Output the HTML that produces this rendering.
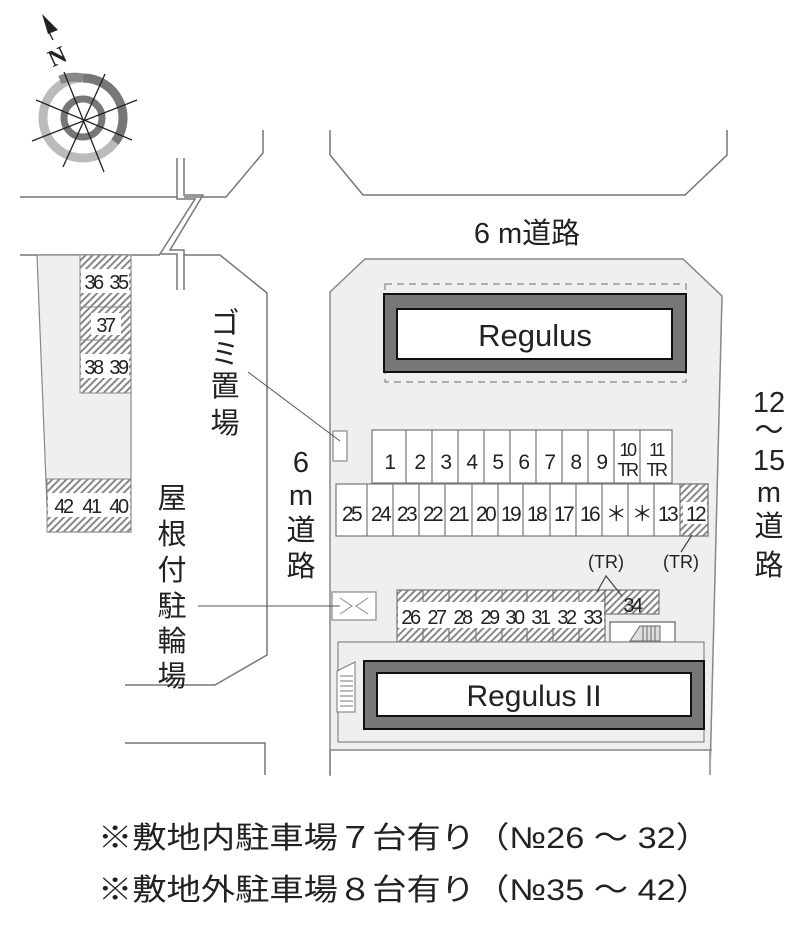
<!DOCTYPE html>
<html><head><meta charset="utf-8"><style>
html,body{margin:0;padding:0;background:#fff}
svg{display:block}
text{font-family:"Liberation Sans","Noto Sans CJK JP",sans-serif;fill:#222}
</style></head><body>
<svg width="800" height="941" viewBox="0 0 800 941" xmlns="http://www.w3.org/2000/svg">
<defs>
<pattern id="h" width="5" height="5" patternUnits="userSpaceOnUse" patternTransform="rotate(45)">
<rect width="5" height="5" fill="#fff"/><rect width="2" height="5" fill="#888"/>
</pattern>
</defs>
<g fill="none" stroke="#666" stroke-width="1.5">
<circle cx="83" cy="118" r="40" stroke="#bbb" stroke-width="9"/>
<path d="M83,78 A40,40 0 0 1 115,142" stroke="#777" stroke-width="9"/>
<circle cx="83" cy="118" r="19" stroke="#777" stroke-width="7"/>
<path d="M60,80 A40,40 0 0 1 83,78" stroke="#888" stroke-width="9"/>
</g>
<g stroke="#222" stroke-width="1.3">
<line x1="64" y1="72" x2="104" y2="172"/>
<line x1="105" y1="74" x2="63" y2="167"/>
<line x1="36" y1="100" x2="132" y2="140"/>
<line x1="32" y1="141" x2="137" y2="100"/>
<line x1="48" y1="30" x2="53" y2="40"/>
</g>
<polygon points="42,14 58,30 48,34" fill="#222"/>
<text x="48" y="64" font-size="24" font-weight="bold" transform="rotate(-25 58 55)" style="font-family:'Liberation Serif',serif">N</text>

<g fill="none" stroke="#777" stroke-width="1.5">
<path d="M20,197 H177 M184,197 H226 L263,153 V130"/>
<path d="M177,158 V199 L195,199 L160,254 L177,254 V290"/>
<path d="M184,158 V195 L203,195 L170,250 L184,250 V290"/>
<path d="M20,255 H160 M184,255 H220 L267,293 V655 L215,685 H125"/>
<path d="M125,743 H265 V775"/>
<path d="M330,130 V155 L363,195 H685 L727,155 V130"/>
</g>
<polygon points="37,255 131,255 131,532 48,532" fill="#efefef" stroke="#888" stroke-width="1.2"/>
<g stroke="#888" stroke-width="1">
<rect x="80" y="255" width="51" height="52" fill="url(#h)"/>
<rect x="80" y="307" width="51" height="33" fill="url(#h)"/>
<rect x="80" y="340" width="51" height="53" fill="url(#h)"/>
<rect x="47" y="479" width="84" height="53" fill="url(#h)"/>
</g>
<g font-size="20" text-anchor="middle" letter-spacing="-2.5">
<rect x="81" y="269" width="48" height="24" fill="#fff"/>
<text x="93" y="289">36</text><text x="118" y="289">35</text>
<rect x="91" y="313" width="30" height="22" fill="#fff"/>
<text x="105" y="332">37</text>
<rect x="81" y="354" width="48" height="24" fill="#fff"/>
<text x="93" y="374">38</text><text x="118" y="374">39</text>
<rect x="48" y="493" width="82" height="24" fill="#fff"/>
<text x="63" y="513">42</text><text x="91" y="513">41</text><text x="118" y="513">40</text>
</g>

<polygon points="330,292 365,259 683,259 722,296 710,775 330,775" fill="#efefef" stroke="#888" stroke-width="1.5"/>
<line x1="330" y1="750" x2="712" y2="750" stroke="#888" stroke-width="1.5"/>
<rect x="331" y="751" width="380" height="26" fill="#fff"/>
<line x1="330" y1="750" x2="330" y2="775" stroke="#888" stroke-width="1.5"/>
<line x1="710" y1="750" x2="710" y2="775" stroke="#888" stroke-width="1.5"/>

<rect x="385" y="284" width="301" height="98" fill="none" stroke="#888" stroke-width="1.2" stroke-dasharray="7,5"/>
<rect x="384" y="294" width="302" height="78" fill="#777" stroke="#111" stroke-width="2"/>
<rect x="397" y="309" width="275" height="50" fill="#fff" stroke="#111" stroke-width="2"/>
<text x="535" y="346" font-size="31" text-anchor="middle">Regulus</text>

<g stroke="#777" stroke-width="1.2" fill="#fff">
<rect x="372" y="430" width="300" height="53"/>
<rect x="336" y="484" width="372" height="52"/>
<rect x="680" y="484" width="28" height="52" fill="url(#h)"/>
<rect x="397" y="590" width="208" height="52" fill="url(#h)"/>
<rect x="605" y="590" width="54" height="24" fill="url(#h)"/>
<path d="M406,430V483M432,430V483M458,430V483M484,430V483M510,430V483M536,430V483M562,430V483M588,430V483M614,430V483M640,430V483"/>
<path d="M367,484V536M393,484V536M419,484V536M445,484V536M472,484V536M498,484V536M523,484V536M550,484V536M576,484V536M602,484V536M628,484V536M654,484V536"/>
<path d="M423,590V642M449,590V642M476,590V642M502,590V642M527,590V642M553,590V642M579,590V642"/>
</g>
<g font-size="21" text-anchor="middle" letter-spacing="-2.5">
<text x="389" y="469">1</text><text x="419" y="469">2</text><text x="445" y="469">3</text><text x="471" y="469">4</text><text x="497" y="469">5</text><text x="523" y="469">6</text><text x="549" y="469">7</text><text x="575" y="469">8</text><text x="601" y="469">9</text>
<text x="627" y="456" font-size="18">10</text><text x="627" y="476" font-size="18">TR</text>
<text x="656" y="456" font-size="18">11</text><text x="656" y="476" font-size="18">TR</text>
<text x="351" y="521">25</text><text x="380" y="521">24</text><text x="406" y="521">23</text><text x="432" y="521">22</text><text x="458" y="521">21</text><text x="485" y="521">20</text><text x="510" y="521">19</text><text x="536" y="521">18</text><text x="563" y="521">17</text><text x="589" y="521">16</text><text x="615" y="521">＊</text><text x="641" y="521">＊</text><text x="667" y="521">13</text>
<rect x="683" y="502" width="24" height="22" fill="#fff"/><text x="695" y="521">12</text>
</g>
<g font-size="20" text-anchor="middle" letter-spacing="-2.5">
<rect x="398" y="602" width="206" height="26" fill="#fff"/>
<text x="410" y="624">26</text><text x="436" y="624">27</text><text x="462" y="624">28</text><text x="489" y="624">29</text><text x="514" y="624">30</text><text x="540" y="624">31</text><text x="566" y="624">32</text><text x="592" y="624">33</text>
<text x="632" y="612">34</text>
</g>
<text x="606" y="568" font-size="18" text-anchor="middle">(TR)</text>
<text x="681" y="568" font-size="18" text-anchor="middle">(TR)</text>
<path d="M597,592 L606,576 L622,596 M681,552 L692,535" stroke="#444" stroke-width="1.2" fill="none"/>

<rect x="610" y="622" width="65" height="20" fill="#fff" stroke="#666" stroke-width="1.2"/>
<path d="M630,641 L640,626 H660 V641 Z" fill="#ddd" stroke="#666"/>
<path d="M643,626V641M647,626V641M651,626V641M655,626V641" stroke="#666"/>

<rect x="332" y="592" width="44" height="28" fill="#fff" stroke="#888" stroke-width="1.2"/>
<path d="M340,598 L352,606 L340,614 M368,598 L356,606 L368,614" stroke="#888" fill="none"/>
<rect x="333" y="431" width="14" height="30" fill="#fff" stroke="#888" stroke-width="1.2"/>
<line x1="248" y1="372" x2="340" y2="441" stroke="#555" stroke-width="1"/>
<line x1="198" y1="606" x2="340" y2="606" stroke="#555" stroke-width="1"/>

<rect x="338" y="642" width="366" height="100" fill="#efefef" stroke="#888" stroke-width="1.2"/>
<rect x="364" y="661" width="340" height="68" fill="#777" stroke="#111" stroke-width="2"/>
<rect x="377" y="673" width="314" height="43" fill="#fff" stroke="#111" stroke-width="2"/>
<text x="534" y="706" font-size="30" text-anchor="middle">Regulus II</text>
<path d="M337,671 L355,662 V712 H337 Z" fill="#fff" stroke="#777"/>
<path d="M340,676H353M340,681H353M340,686H353M340,691H353M340,696H353M340,701H353M340,706H353" stroke="#777"/>

<text x="527" y="243" font-size="29" text-anchor="middle">6 m道路</text>
<g font-size="29" text-anchor="middle">
<text x="769" y="412">12</text>
<text x="769" y="440">～</text>
<text x="769" y="470">15</text>
<text x="769" y="502">m</text>
<text x="769" y="536">道</text>
<text x="769" y="575">路</text>
<text x="301" y="472">6</text>
<text x="301" y="505">m</text>
<text x="301" y="540">道</text>
<text x="301" y="576">路</text>
<text x="225" y="333">ゴ</text>
<text x="225" y="364">ミ</text>
<text x="225" y="396">置</text>
<text x="225" y="433">場</text>
<text x="172" y="508">屋</text>
<text x="172" y="544">根</text>
<text x="172" y="580">付</text>
<text x="172" y="616">駐</text>
<text x="172" y="651">輪</text>
<text x="172" y="686">場</text>
</g>
<text x="98" y="848" font-size="30" textLength="612" lengthAdjust="spacingAndGlyphs">※敷地内駐車場７台有り（№26 ～ 32）</text>
<text x="98" y="900" font-size="30" textLength="612" lengthAdjust="spacingAndGlyphs">※敷地外駐車場８台有り（№35 ～ 42）</text>
</svg>
</body></html>
